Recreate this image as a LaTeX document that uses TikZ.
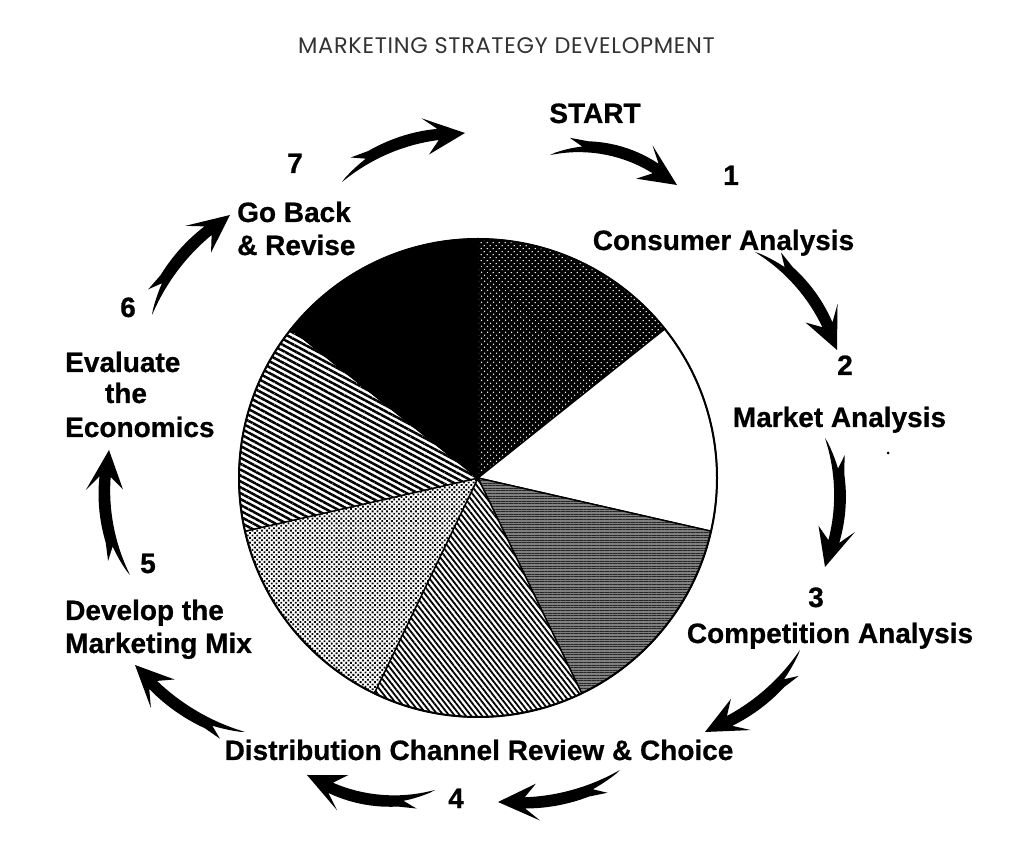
\documentclass[tikz,border=0pt]{standalone}
\usepackage{fontspec}
\setmainfont{Liberation Sans}
\newfontfamily\titlefont[LetterSpace=3]{Poppins}
\usetikzlibrary{patterns.meta}
\newcommand\PX[2]{\Cx+(\Rr+(#2))*cos(\thA+(#1)*\dTh)}
\newcommand\PY[2]{\Cy+(\Rr+(#2))*sin(\thA+(#1)*\dTh)}
\newcommand\swoosh[5]{%
 \pgfmathsetmacro\Tx{#1}%
 \pgfmathsetmacro\Ty{860-(#2)}%
 \pgfmathsetmacro\Hx{#3}%
 \pgfmathsetmacro\Hy{860-(#4)}%
 \pgfmathsetmacro\dX{\Hx-\Tx}%
 \pgfmathsetmacro\dY{\Hy-\Ty}%
 \pgfmathsetmacro\Lc{veclen(\dX,\dY)}%
 \pgfmathsetmacro\ux{\dX/\Lc}%
 \pgfmathsetmacro\uy{\dY/\Lc}%
 \pgfmathsetmacro\Bg{#5}%
 \pgfmathsetmacro\Rr{(\Lc/8)*(\Lc/\Bg)+\Bg/2}%
 \pgfmathsetmacro\Cx{\Tx+0.5*\Lc*\ux-(\Bg-\Rr)*\uy}%
 \pgfmathsetmacro\Cy{\Ty+0.5*\Lc*\uy+(\Bg-\Rr)*\ux}%
 \pgfmathsetmacro\thA{atan2(\Ty-\Cy,\Tx-\Cx)}%
 \pgfmathsetmacro\thB{atan2(\Hy-\Cy,\Hx-\Cx)}%
 \pgfmathsetmacro\dTh{\thB-\thA}%
 \pgfmathsetmacro\dTh{\dTh>0 ? \dTh-360 : \dTh}%
 \pgfmathsetmacro\Al{(\Rr/57.2958)*abs(\dTh)}%
 \pgfmathsetmacro\Qa{33/\Al}%
 \pgfmathsetmacro\Qb{22/\Al}%
 \pgfmathsetmacro\Qc{39/\Al}%
 \pgfmathsetmacro\Qn{1-27/\Al}%
 \pgfmathsetmacro\Qh{1-40/\Al}%
 \fill[black] (\Tx,\Ty)
  -- plot[domain=0.04:\Qa, samples=6, variable=\pp] ({\PX{\pp}{0.4+2.3*\pp/\Qa}},{\PY{\pp}{0.4+2.3*\pp/\Qa}})
  -- ({\PX{\Qb}{12.5}},{\PY{\Qb}{12.5}})
  -- plot[domain=\Qc:\Qn, samples=14, variable=\pp] ({\PX{\pp}{7.8-2.4*(\pp-\Qc)/(\Qn-\Qc)}},{\PY{\pp}{7.8-2.4*(\pp-\Qc)/(\Qn-\Qc)}})
  -- ({\PX{\Qh}{18.5}},{\PY{\Qh}{18.5}})
  -- (\Hx,\Hy)
  -- ({\PX{\Qh}{-18.5}},{\PY{\Qh}{-18.5}})
  -- plot[domain=0:1, samples=16, variable=\pp] ({\PX{\Qn-\pp*(\Qn-0.07)}{-1-4.8*(1-\pp*\pp)}},{\PY{\Qn-\pp*(\Qn-0.07)}{-1-4.8*(1-\pp*\pp)}})
  -- cycle;
}
\newcommand\pieslice[3]{\path[#3] (478,382) -- ++(#1:239pt) arc[start angle=#1, end angle=#2, radius=239pt] -- cycle;}
\begin{document}
\begin{tikzpicture}[x=1pt,y=1pt,
  lbl/.style={font=\bfseries\addfontfeatures{FakeBold=0.7}\fontsize{28}{30}\selectfont, inner sep=0pt},
  ttl/.style={font=\titlefont\fontsize{22.5}{26}\selectfont, text=black!80, inner sep=0pt},
  edge/.style={draw=black, line width=1.4pt}]
\useasboundingbox (0,0) rectangle (1010,860);
\fill[white] (0,0) rectangle (1010,860);
\node[ttl, anchor=base] (title) at (506.5,806) {MARKETING STRATEGY DEVELOPMENT};
% pie
\pieslice{90}{38.571}{edge, preaction={fill=black}, pattern={Dots[distance=4pt, radius=0.8pt, angle=45]}, pattern color=white}
\pieslice{38.571}{-12.857}{edge, fill=white}
\pieslice{-12.857}{-64.286}{edge, preaction={fill=black!50}, pattern={Lines[distance=2.6pt, line width=0.9pt]}, pattern color=black!85}
\pieslice{-64.286}{-115.714}{edge, preaction={fill=white}, pattern={Lines[angle=-52, distance=4.3pt, line width=1.8pt]}, pattern color=black}
\pieslice{-115.714}{-167.143}{edge, preaction={fill=white}, pattern={Dots[distance=3.4pt, radius=1.3pt, angle=45]}, pattern color=black}
\pieslice{-167.143}{-218.571}{edge, preaction={fill=white}, pattern={Lines[angle=-28, distance=5.2pt, line width=2.5pt]}, pattern color=black}
\pieslice{141.429}{90}{edge, fill=black}
\draw[line width=2pt] (478,382) circle[radius=239pt];
\fill (888,407) circle[radius=1.5pt];
% arrows
\swoosh{342}{182}{465}{133}{14}
\swoosh{550}{155}{677}{185}{18}
\swoosh{755}{252}{837}{350}{14}
\swoosh{825}{438}{825}{567}{14}
\swoosh{800}{650}{705}{732}{12}
\swoosh{620}{770}{498}{802}{12}
\swoosh{435}{790}{307}{775}{16}
\swoosh{245}{732}{135}{665}{12}
\swoosh{130}{575}{109}{450}{13}
\swoosh{152}{315}{230}{215}{12}
% labels
\node[lbl, anchor=base] (start) at (595,737) {START};
\node[lbl, anchor=base] (n1) at (731,675) {1};
\node[lbl, anchor=base] (consumer) at (723.5,610) {Consumer Analysis};
\node[lbl, anchor=base] (n2) at (845,485) {2};
\node[lbl, anchor=base] (market) at (839.5,433) {Market Analysis};
\node[lbl, anchor=base] (n3) at (816,253) {3};
\node[lbl, anchor=base] (competition) at (830,217) {Competition Analysis};
\node[lbl, anchor=base] (distribution) at (479,100) {Distribution Channel Review \& Choice};
\node[lbl, anchor=base] (n4) at (456,52) {4};
\node[lbl, anchor=base west] (develop) at (65,240) {Develop the};
\node[lbl, anchor=base west] (mix) at (65,207) {Marketing Mix};
\node[lbl, anchor=base] (n5) at (148,287) {5};
\node[lbl, anchor=base west] (evaluate) at (65,488) {Evaluate};
\node[lbl, anchor=base] (the) at (126,457) {the};
\node[lbl, anchor=base west] (economics) at (65,423) {Economics};
\node[lbl, anchor=base] (n6) at (128,543) {6};
\node[lbl, anchor=base west] (goback) at (237,638) {Go Back};
\node[lbl, anchor=base west] (revise) at (237,605) {\& Revise};
\node[lbl, anchor=base] (n7) at (295,687) {7};
\end{tikzpicture}
\end{document}
